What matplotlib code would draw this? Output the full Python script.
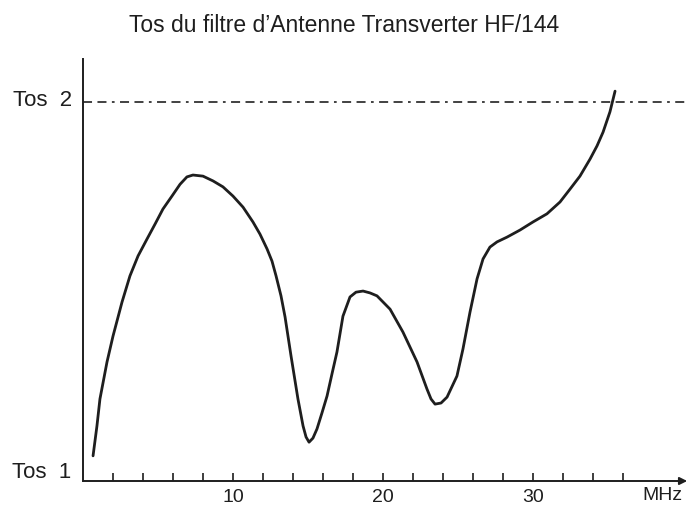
import matplotlib
matplotlib.use("Agg")
import matplotlib.pyplot as plt

# SWR of the HF/144 transverter antenna filter
freq_mhz = [0.65, 0.91, 1.11, 1.58, 1.98, 2.58, 3.11, 3.65, 4.25, 4.78,
            5.31, 5.91, 6.45, 6.91, 7.31, 7.98, 8.65, 9.31, 9.98, 10.65,
            11.31, 11.78, 12.25, 12.58, 12.85, 13.18, 13.45, 13.85, 14.31,
            14.65, 14.85, 15.05, 15.31, 15.58, 15.91, 16.25, 16.58, 16.91,
            17.31, 17.78, 18.18, 18.65, 19.11, 19.58, 20.45, 21.31, 22.25,
            22.91, 23.18, 23.45, 23.85, 24.25, 24.91, 25.31, 25.78, 26.25,
            26.65, 27.11, 27.58, 28.25, 29.11, 29.98, 30.91, 31.78, 32.45,
            33.11, 33.78, 34.25, 34.65, 35.11, 35.45]
swr = [1.041, 1.122, 1.195, 1.295, 1.365, 1.457, 1.528, 1.582, 1.628, 1.668,
       1.709, 1.744, 1.776, 1.796, 1.801, 1.798, 1.785, 1.769, 1.744, 1.714,
       1.674, 1.641, 1.601, 1.568, 1.528, 1.474, 1.417, 1.311, 1.195,
       1.122, 1.092, 1.078, 1.089, 1.114, 1.157, 1.203, 1.263, 1.322,
       1.419, 1.471, 1.484, 1.487, 1.482, 1.474, 1.438, 1.376, 1.295,
       1.222, 1.195, 1.181, 1.184, 1.200, 1.257, 1.330, 1.430, 1.520,
       1.574, 1.606, 1.620, 1.633, 1.652, 1.674, 1.696, 1.728, 1.763,
       1.798, 1.844, 1.880, 1.917, 1.972, 2.028]

tick_pos = list(range(2, 38, 2))
tick_text = {10: "10", 20: "20", 30: "30"}
swr_limit = 2.0

plt.rcParams['font.family'] = ['Liberation Sans', 'DejaVu Sans']
ink = '#1e1e1e'

W, H = 689, 506
fig = plt.figure(figsize=(W / 100, H / 100), dpi=100)
x0, x1 = 83.3, 689.0
y0, y1 = 482.0, 60.0
ax = fig.add_axes([x0 / W, 1 - y0 / H, (x1 - x0) / W, (y0 - y1) / H])

px_per_mhz = 15.0
px_per_swr = 369.5
ax.set_xlim(0, (x1 - x0) / px_per_mhz)
ax.set_ylim(1 - (y0 - 472) / px_per_swr, 1 + (472 - y1) / px_per_swr)

ax.plot(freq_mhz, swr, color=ink, lw=2.0, solid_capstyle='round',
        solid_joinstyle='round')
ax.axhline(swr_limit, color='#333333', lw=1.3,
           linestyle=(0, (5, 3, 5, 3, 1.5, 3)))

for s in ['top', 'right', 'bottom']:
    ax.spines[s].set_visible(False)
ax.spines['left'].set_linewidth(1.4)
ax.spines['left'].set_color(ink)

# x axis drawn as an arrow
ax.annotate('', xy=(0.997, 0), xytext=(0, 0), xycoords='axes fraction',
            textcoords='axes fraction',
            arrowprops=dict(arrowstyle='-|>', color=ink, lw=1.4,
                            mutation_scale=11, shrinkA=0, shrinkB=0))

ax.set_xticks(tick_pos)
ax.set_xticklabels([tick_text.get(t, "") for t in tick_pos])
ax.tick_params(axis='x', direction='in', length=6, width=1.2, color=ink,
               labelsize=14, pad=5, labelcolor=ink)
ax.set_yticks([])

fig.text(662 / W, 1 - 496 / H, "MHz", fontsize=14, ha='center', va='center',
         color=ink)
fig.text(13 / W, 1 - 100 / H, "Tos  2", fontsize=16, ha='left', va='center',
         color=ink)
fig.text(12 / W, 1 - 473 / H, "Tos  1", fontsize=16, ha='left', va='center',
         color=ink)
fig.text(344 / W, 1 - 26 / H, "Tos du filtre d\u2019Antenne Transverter HF/144",
         fontsize=16.5, ha='center', va='center', color=ink)

fig.savefig("out.png", dpi=100, facecolor='white')
